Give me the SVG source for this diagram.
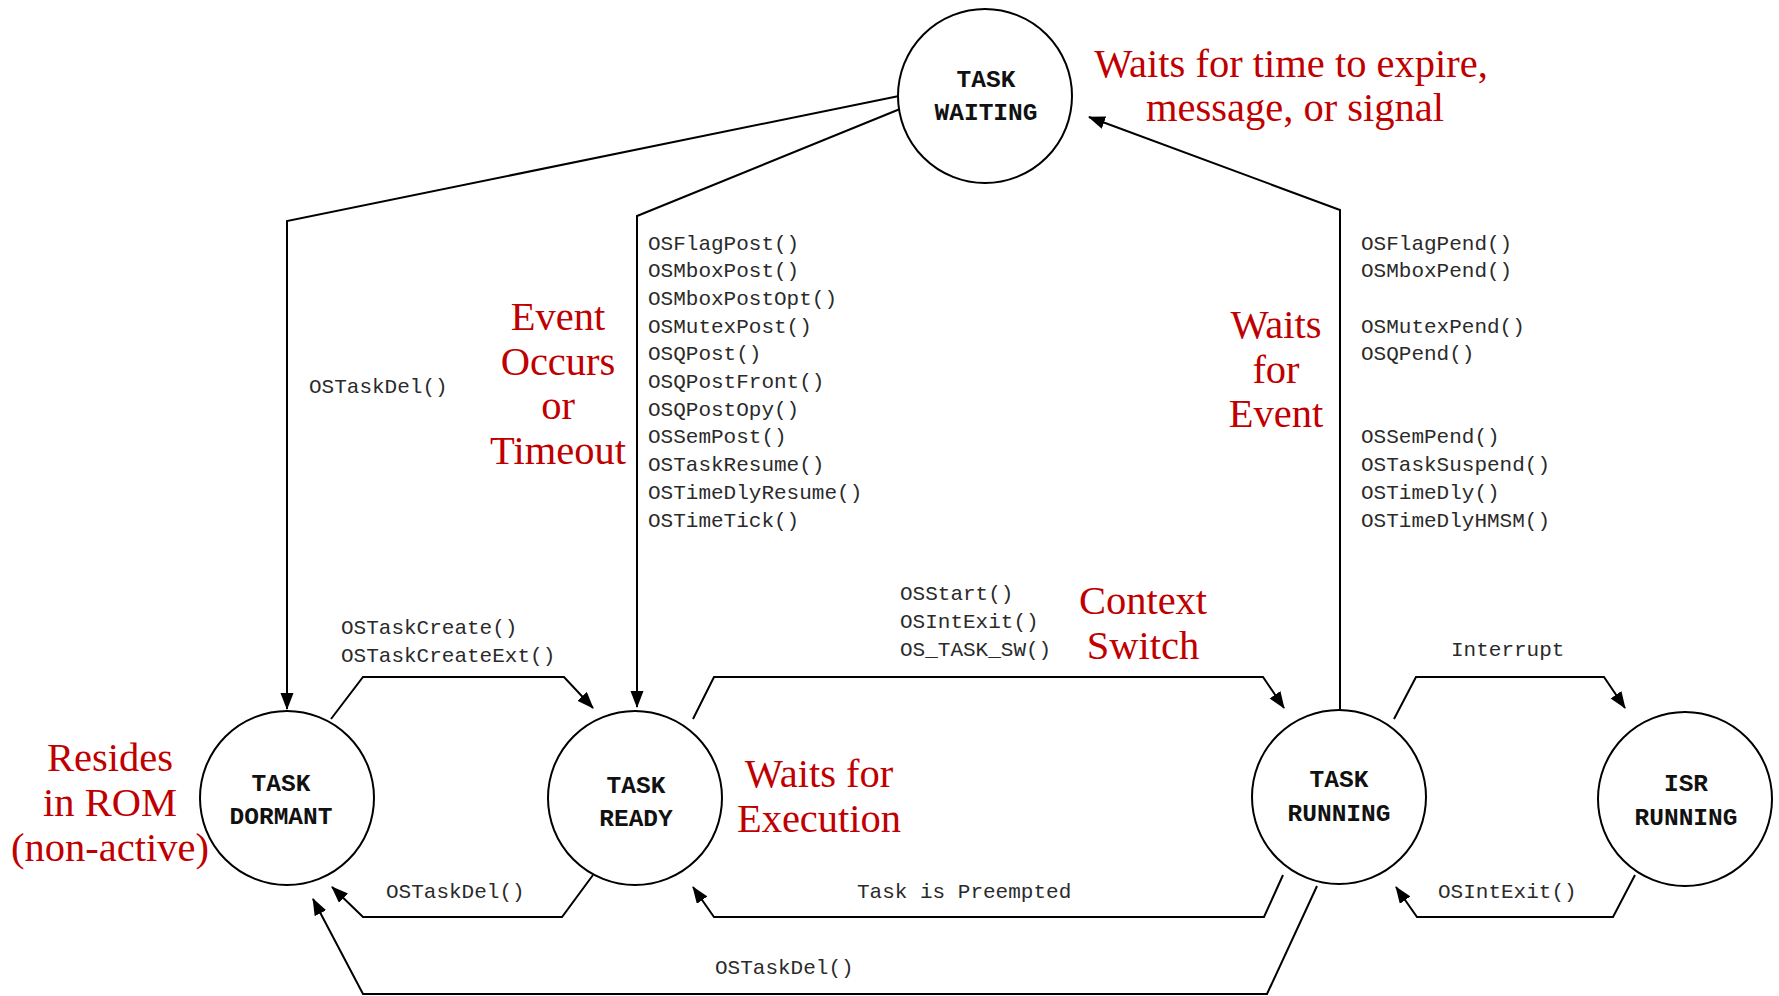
<svg xmlns="http://www.w3.org/2000/svg" width="1779" height="996" viewBox="0 0 1779 996">
  <style>
    .state { fill: #ffffff; stroke: #000000; stroke-width: 2; }
    .state-name { font-family: "Liberation Mono", "Courier New", monospace; font-weight: bold; font-size: 24.5px; fill: #111111; text-anchor: middle; }
    .wire { fill: none; stroke: #000000; stroke-width: 2; marker-end: url(#arrow); }
    .call { font-family: "Liberation Mono", "Courier New", monospace; font-size: 21px; fill: #2a2a2a; }
    .note { font-family: "Liberation Serif", "Times New Roman", serif; font-size: 40.5px; fill: #c00000; text-anchor: middle; }
  </style>
  <defs>
    <marker id="arrow" markerUnits="userSpaceOnUse" markerWidth="18" markerHeight="14" refX="16" refY="6.5" orient="auto">
      <path d="M0,0 L17,6.5 L0,13 z" fill="#000000"/>
    </marker>
  </defs>
  <rect width="1779" height="996" fill="#ffffff"/>

  <!-- transitions -->
  <g id="connectors">
    <!-- waiting -> dormant -->
    <polyline class="wire" points="899,96 287,221 287,709"/>
    <!-- waiting -> ready -->
    <polyline class="wire" points="900,109 637,216 637,707"/>
    <!-- running -> waiting -->
    <polyline class="wire" points="1340,709 1340,210 1089,117"/>
    <!-- dormant -> ready -->
    <polyline class="wire" points="331,719 363,677 564,677 593,708"/>
    <!-- ready -> dormant -->
    <polyline class="wire" points="593,875 562,917 363,917 332,887"/>
    <!-- ready -> running -->
    <polyline class="wire" points="693,719 714,677 1263,677 1284,708"/>
    <!-- running -> ready (preempted) -->
    <polyline class="wire" points="1283,875 1264,917 714,917 693,887"/>
    <!-- running -> isr -->
    <polyline class="wire" points="1394,719 1416,677 1604,677 1625,708"/>
    <!-- isr -> running -->
    <polyline class="wire" points="1635,875 1613,917 1417,917 1396,887"/>
    <!-- running -> dormant -->
    <polyline class="wire" points="1317,886 1267,994 363,994 313,899"/>
  </g>

  <g id="task-waiting">
    <circle class="state" cx="985" cy="96" r="87"/>
    <text class="state-name" x="986" y="87">TASK</text>
    <text class="state-name" x="986" y="120">WAITING</text>
  </g>
  <g id="task-dormant">
    <circle class="state" cx="287" cy="798" r="87"/>
    <text class="state-name" x="281" y="791">TASK</text>
    <text class="state-name" x="281" y="824">DORMANT</text>
  </g>
  <g id="task-ready">
    <circle class="state" cx="635" cy="798" r="87"/>
    <text class="state-name" x="636" y="793">TASK</text>
    <text class="state-name" x="636" y="826">READY</text>
  </g>
  <g id="task-running">
    <circle class="state" cx="1339" cy="797" r="87"/>
    <text class="state-name" x="1339" y="787">TASK</text>
    <text class="state-name" x="1339" y="821">RUNNING</text>
  </g>
  <g id="isr-running">
    <circle class="state" cx="1685" cy="799" r="87"/>
    <text class="state-name" x="1686" y="791">ISR</text>
    <text class="state-name" x="1686" y="825">RUNNING</text>
  </g>

  <!-- kernel calls on transitions -->
  <g id="call-labels">
    <text class="call" x="309" y="393">OSTaskDel()</text>
    <text class="call" x="648" y="250">OSFlagPost()</text>
    <text class="call" x="648" y="277">OSMboxPost()</text>
    <text class="call" x="648" y="305">OSMboxPostOpt()</text>
    <text class="call" x="648" y="333">OSMutexPost()</text>
    <text class="call" x="648" y="360">OSQPost()</text>
    <text class="call" x="648" y="388">OSQPostFront()</text>
    <text class="call" x="648" y="416">OSQPostOpy()</text>
    <text class="call" x="648" y="443">OSSemPost()</text>
    <text class="call" x="648" y="471">OSTaskResume()</text>
    <text class="call" x="648" y="499">OSTimeDlyResume()</text>
    <text class="call" x="648" y="527">OSTimeTick()</text>

    <text class="call" x="1361" y="250">OSFlagPend()</text>
    <text class="call" x="1361" y="277">OSMboxPend()</text>
    <text class="call" x="1361" y="333">OSMutexPend()</text>
    <text class="call" x="1361" y="360">OSQPend()</text>
    <text class="call" x="1361" y="443">OSSemPend()</text>
    <text class="call" x="1361" y="471">OSTaskSuspend()</text>
    <text class="call" x="1361" y="499">OSTimeDly()</text>
    <text class="call" x="1361" y="527">OSTimeDlyHMSM()</text>

    <text class="call" x="341" y="634">OSTaskCreate()</text>
    <text class="call" x="341" y="662">OSTaskCreateExt()</text>
    <text class="call" x="900" y="600">OSStart()</text>
    <text class="call" x="900" y="628">OSIntExit()</text>
    <text class="call" x="900" y="656">OS_TASK_SW()</text>
    <text class="call" x="1451" y="656">Interrupt</text>
    <text class="call" x="386" y="898">OSTaskDel()</text>
    <text class="call" x="857" y="898">Task is Preempted</text>
    <text class="call" x="1438" y="898">OSIntExit()</text>
    <text class="call" x="715" y="974">OSTaskDel()</text>
  </g>

  <!-- state descriptions -->
  <g id="notes">
    <text class="note" x="1291" y="77">Waits for time to expire,</text>
    <text class="note" x="1295" y="121">message, or signal</text>
    <text class="note" x="558" y="330">Event</text>
    <text class="note" x="558" y="375">Occurs</text>
    <text class="note" x="558" y="419">or</text>
    <text class="note" x="558" y="464">Timeout</text>
    <text class="note" x="1276" y="338">Waits</text>
    <text class="note" x="1276" y="383">for</text>
    <text class="note" x="1276" y="427">Event</text>
    <text class="note" x="1143" y="614">Context</text>
    <text class="note" x="1143" y="659">Switch</text>
    <text class="note" x="819" y="787">Waits for</text>
    <text class="note" x="819" y="832">Execution</text>
    <text class="note" x="110" y="771">Resides</text>
    <text class="note" x="110" y="816">in ROM</text>
    <text class="note" x="110" y="861">(non-active)</text>
  </g>
</svg>
